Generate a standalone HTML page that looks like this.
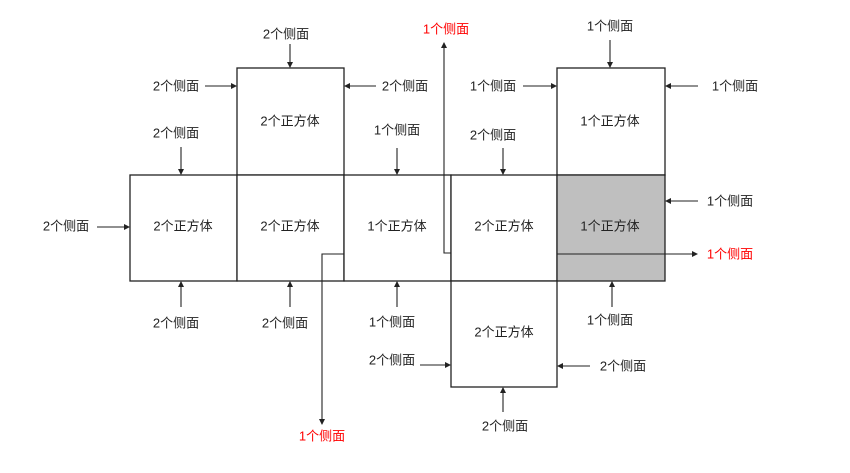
<!DOCTYPE html>
<html><head><meta charset="utf-8"><style>
html,body{margin:0;padding:0;background:#fff;}
svg{display:block;}
text{font-family:"Liberation Sans","Noto Sans CJK SC",sans-serif;font-size:13px;fill:#222;text-anchor:middle;dominant-baseline:central;}
.r{fill:#f00;}
.b{fill:#fff;stroke:#222;stroke-width:1.3;}
.l{stroke:#222;stroke-width:1.1;fill:none;marker-end:url(#a);}
</style></head><body>
<svg width="850" height="473" viewBox="0 0 850 473">
<defs><marker id="a" markerWidth="6" markerHeight="6" refX="5" refY="3" orient="auto" markerUnits="userSpaceOnUse"><path d="M0,0 L6,3 L0,6z" fill="#222"/></marker></defs>
<rect class="b" x="237" y="68" width="107" height="107"/>
<rect class="b" x="557" y="68" width="108" height="107"/>
<rect class="b" x="130" y="175" width="107" height="106"/>
<rect class="b" x="237" y="175" width="107" height="106"/>
<rect class="b" x="344" y="175" width="107" height="106"/>
<rect class="b" x="451" y="175" width="106" height="106"/>
<rect class="b" x="557" y="175" width="108" height="106" style="fill:#bfbfbf"/>
<rect class="b" x="451" y="281" width="106" height="106"/>
<text x="290" y="121">2个正方体</text>
<text x="610" y="121">1个正方体</text>
<text x="183" y="226">2个正方体</text>
<text x="290" y="226">2个正方体</text>
<text x="397" y="226">1个正方体</text>
<text x="504" y="226">2个正方体</text>
<text x="610" y="226">1个正方体</text>
<text x="504" y="332">2个正方体</text>
<!-- labels -->
<text x="286" y="34">2个侧面</text><path class="l" d="M290,44V67"/>
<text x="176" y="86">2个侧面</text><path class="l" d="M205,86H236"/>
<text x="405" y="86">2个侧面</text><path class="l" d="M376,86H345"/>
<text x="176" y="133">2个侧面</text><path class="l" d="M181,147V174"/>
<text x="397" y="130">1个侧面</text><path class="l" d="M397,148V174"/>
<text class="r" x="446" y="29">1个侧面</text><path class="l" d="M451,253H444V43"/>
<text x="493" y="86">1个侧面</text><path class="l" d="M523,86H556"/>
<text x="493" y="135">2个侧面</text><path class="l" d="M503,148V174"/>
<text x="610" y="26">1个侧面</text><path class="l" d="M610,40V67"/>
<text x="735" y="86">1个侧面</text><path class="l" d="M698,86H666"/>
<text x="730" y="201">1个侧面</text><path class="l" d="M698,201H666"/>
<text x="66" y="226">2个侧面</text><path class="l" d="M97,227H129"/>
<text class="r" x="730" y="254">1个侧面</text><path class="l" d="M557,254H697"/>
<text x="176" y="323">2个侧面</text><path class="l" d="M181,307V282"/>
<text x="285" y="323">2个侧面</text><path class="l" d="M290,307V282"/>
<text x="392" y="322">1个侧面</text><path class="l" d="M397,307V282"/>
<text x="610" y="320">1个侧面</text><path class="l" d="M612,307V282"/>
<text x="392" y="360">2个侧面</text><path class="l" d="M420,365H450"/>
<text x="623" y="366">2个侧面</text><path class="l" d="M590,366H558"/>
<text x="505" y="426">2个侧面</text><path class="l" d="M503,412V388"/>
<text class="r" x="322" y="436">1个侧面</text><path class="l" d="M344,254H322V424"/>
</svg>
</body></html>
